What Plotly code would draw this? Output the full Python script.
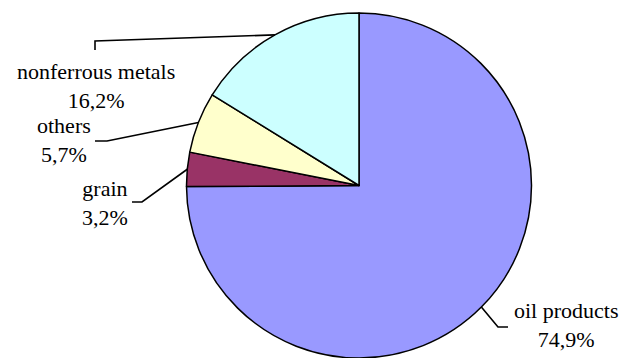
import math
import plotly.graph_objects as go

# Export structure by commodity group (share, %)
categories = ["oil products", "grain", "others", "nonferrous metals"]
shares = [74.9, 3.2, 5.7, 16.2]
colors = ["#9999FF", "#993366", "#FFFFCC", "#CCFFFF"]

W, H = 621, 358
CX, CY, R = 359.0, 185.5, 172.5  # pie centre / radius in pixels
SERIF = "Liberation Serif"

# label block centres and leader-line elbows (pixels, from top-left)
label_pos = {
    "oil products": (566, 325),
    "grain": (105, 203),
    "others": (64, 140),
    "nonferrous metals": (96, 86),
}
elbows = {
    "oil products": [(498, 327), (508, 327)],
    "grain": [(142, 202), (132, 202)],
    "others": [(107, 141), (95, 141)],
    "nonferrous metals": [(95, 41), (95, 50)],
}


def px(x, y):
    return x / W, 1 - y / H


fig = go.Figure(
    go.Pie(
        labels=categories,
        values=shares,
        sort=False,
        direction="clockwise",
        rotation=0,
        marker=dict(colors=colors, line=dict(color="black", width=1.5)),
        textinfo="none",
        hoverinfo="label+percent",
        showlegend=False,
        domain=dict(x=[(CX - R) / W, (CX + R) / W], y=[0, 2 * R / H]),
    )
)

total = sum(shares)
cum = 0.0
for name, v in zip(categories, shares):
    mid = (cum + v / 2) / total
    cum += v
    theta = math.radians(90 - 360 * mid)
    sx, sy = CX + R * math.cos(theta), CY - R * math.sin(theta)
    pts = [(sx, sy)] + elbows[name]
    path = " ".join(
        ("M" if i == 0 else "L") + " {:.5f},{:.5f}".format(*px(x, y))
        for i, (x, y) in enumerate(pts)
    )
    fig.add_shape(type="path", xref="paper", yref="paper", path=path,
                  line=dict(color="black", width=1.6))
    lx, ly = px(*label_pos[name])
    pct = f"{v:.1f}".replace(".", ",") + "%"
    fig.add_annotation(
        x=lx, y=ly, xref="paper", yref="paper", showarrow=False,
        text=f"{name}<br>{pct}", align="center",
        xanchor="center", yanchor="middle",
        font=dict(family=SERIF, size=22, color="black"),
    )

fig.update_layout(
    width=W, height=H,
    margin=dict(l=0, r=0, t=0, b=0),
    paper_bgcolor="white",
)

fig.write_html("out.html")
